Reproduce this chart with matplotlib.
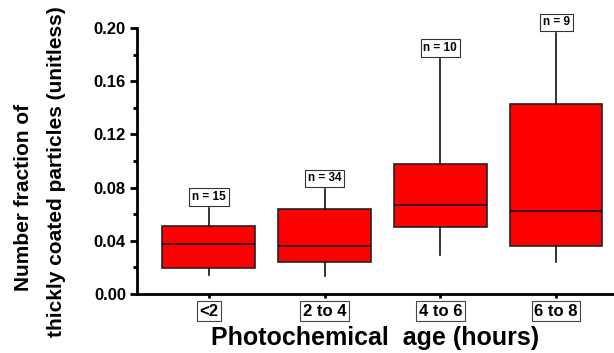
import matplotlib.pyplot as plt
from matplotlib.ticker import MultipleLocator

plt.rcParams['font.family'] = ['Liberation Sans', 'DejaVu Sans']
plt.rcParams['font.weight'] = 'bold'

# Box statistics per photochemical age bin
categories = ['<2', '2 to 4', '4 to 6', '6 to 8']
counts = [15, 34, 10, 9]
whisker_low = [0.0143, 0.0135, 0.0293, 0.024]
q1 = [0.0195, 0.0243, 0.0504, 0.036]
median = [0.0376, 0.0363, 0.0669, 0.0624]
q3 = [0.0511, 0.0637, 0.0977, 0.1429]
whisker_high = [0.0647, 0.0787, 0.1767, 0.196]

stats = []
for i in range(len(categories)):
    stats.append({'whislo': whisker_low[i], 'q1': q1[i], 'med': median[i],
                  'q3': q3[i], 'whishi': whisker_high[i], 'fliers': []})

fig = plt.figure(figsize=(6.14, 3.53), dpi=100)
ax = fig.add_axes([137 / 614, 59 / 353, 477 / 614, 266 / 353])

positions = list(range(1, len(categories) + 1))
ax.bxp(stats, positions=positions, widths=0.8, showcaps=False,
       patch_artist=True,
       boxprops=dict(facecolor='#ff0000', edgecolor='#222222', linewidth=1.2),
       medianprops=dict(color='#111111', linewidth=1.2),
       whiskerprops=dict(color='#111111', linewidth=1.2))

for x, n, hi in zip(positions, counts, whisker_high):
    ax.annotate(f'n = {n}', (x, hi), xytext=(0, 3.5), textcoords='offset points',
                ha='center', va='bottom', fontsize=8.5, fontweight='bold',
                bbox=dict(boxstyle='square,pad=0.25', fc='white', ec='#333333', lw=0.8))

ax.set_xlim(0.38, 4.5)
ax.set_ylim(0, 0.2)
ax.set_xticks(positions)
ax.set_xticklabels(categories, fontsize=12, fontweight='bold')
for lbl in ax.get_xticklabels():
    lbl.set_bbox(dict(boxstyle='square,pad=0.15', fc='white', ec='#444444', lw=0.8))

ax.yaxis.set_major_locator(MultipleLocator(0.04))
ax.yaxis.set_minor_locator(MultipleLocator(0.02))
ax.set_yticklabels([f'{v:.2f}' for v in ax.get_yticks()], fontsize=12, fontweight='bold')
ax.tick_params(axis='y', which='major', length=5, width=2, pad=3)
ax.tick_params(axis='y', which='minor', length=3, width=2)
ax.tick_params(axis='x', length=3, width=2, pad=4)

for side in ['top', 'right']:
    ax.spines[side].set_visible(False)
for side in ['left', 'bottom']:
    ax.spines[side].set_linewidth(2)

ax.set_xlabel('Photochemical  age (hours)', fontsize=18, fontweight='bold', labelpad=5)

# two-line y label, each line placed on its own
fig.text(24 / 614, 1 - 197 / 353, 'Number fraction of', rotation=90,
         ha='center', va='center', fontsize=15, fontweight='bold')
fig.text(57 / 614, 1 - 172 / 353, 'thickly coated particles (unitless)', rotation=90,
         ha='center', va='center', fontsize=15, fontweight='bold')

fig.savefig('out.png', dpi=100)
